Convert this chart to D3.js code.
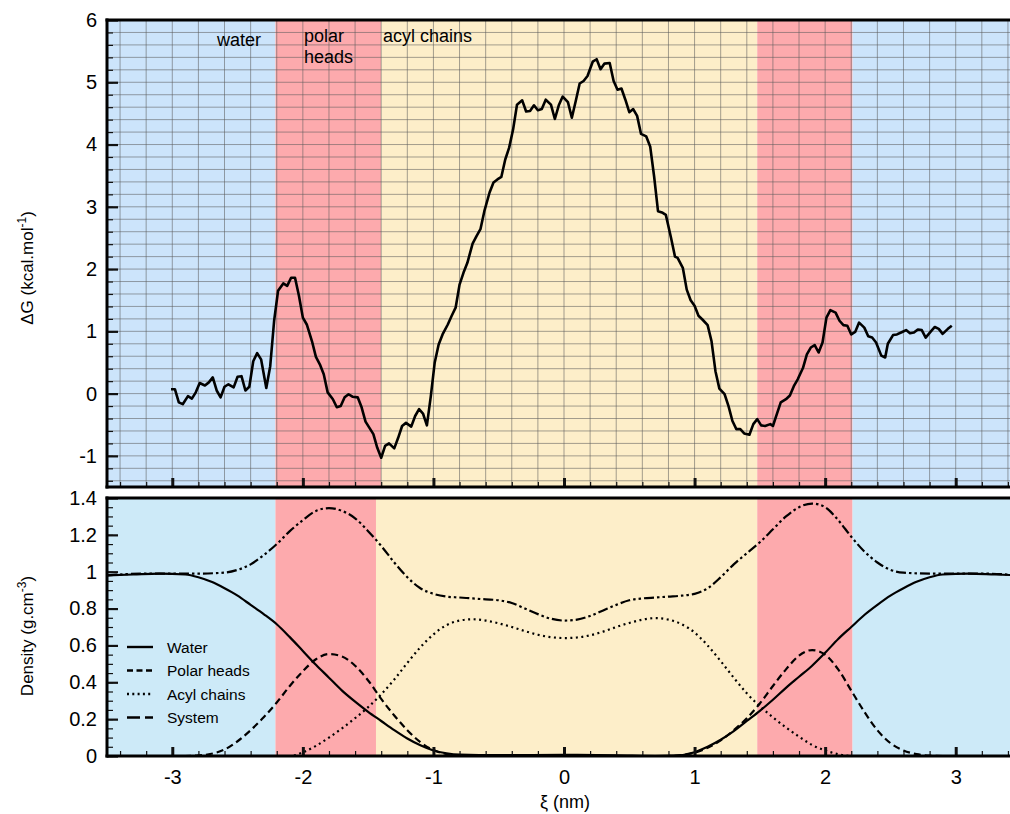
<!DOCTYPE html>
<html>
<head>
<meta charset="utf-8">
<script src="https://cdn.jsdelivr.net/npm/d3@7"></script>
<style>
body{margin:0;background:#fff}
text{font-family:"Liberation Sans",Arial,Helvetica,sans-serif}
</style>
</head>
<body>
<svg id="chart" width="1010" height="814"></svg>
<script>
// free energy profile, [xi (nm), dG (kcal/mol)]
var dgPoints = [[-3.01,0.07],[-2.98,0.07],[-2.95,-0.14],[-2.92,-0.17],[-2.88,-0.04],[-2.85,-0.08],[-2.82,0.02],[-2.79,0.17],[-2.75,0.13],[-2.72,0.18],[-2.69,0.26],[-2.66,0.05],[-2.63,-0.06],[-2.60,0.11],[-2.57,0.15],[-2.53,0.10],[-2.50,0.27],[-2.47,0.28],[-2.44,0.05],[-2.41,0.11],[-2.38,0.52],[-2.35,0.65],[-2.32,0.55],[-2.28,0.09],[-2.25,0.44],[-2.22,1.17],[-2.19,1.65],[-2.15,1.77],[-2.12,1.73],[-2.09,1.86],[-2.06,1.86],[-2.03,1.57],[-2.00,1.22],[-1.97,1.11],[-1.93,0.84],[-1.90,0.59],[-1.87,0.47],[-1.84,0.31],[-1.81,0.02],[-1.77,-0.09],[-1.74,-0.22],[-1.71,-0.20],[-1.68,-0.06],[-1.65,-0.01],[-1.62,-0.05],[-1.58,-0.06],[-1.55,-0.22],[-1.52,-0.45],[-1.49,-0.55],[-1.46,-0.65],[-1.43,-0.87],[-1.40,-1.03],[-1.37,-0.84],[-1.34,-0.80],[-1.30,-0.88],[-1.27,-0.71],[-1.24,-0.52],[-1.21,-0.47],[-1.17,-0.53],[-1.14,-0.36],[-1.11,-0.25],[-1.08,-0.32],[-1.05,-0.51],[-1.02,-0.04],[-0.99,0.50],[-0.96,0.79],[-0.93,0.95],[-0.89,1.11],[-0.86,1.25],[-0.83,1.38],[-0.80,1.75],[-0.77,1.94],[-0.74,2.10],[-0.70,2.41],[-0.67,2.53],[-0.64,2.64],[-0.61,2.93],[-0.57,3.23],[-0.54,3.39],[-0.51,3.44],[-0.48,3.48],[-0.45,3.76],[-0.42,3.95],[-0.39,4.24],[-0.36,4.64],[-0.32,4.71],[-0.29,4.53],[-0.26,4.54],[-0.23,4.63],[-0.20,4.55],[-0.17,4.57],[-0.14,4.72],[-0.10,4.64],[-0.07,4.41],[-0.04,4.63],[-0.01,4.77],[0.03,4.68],[0.06,4.43],[0.09,4.70],[0.12,4.98],[0.15,5.02],[0.18,5.10],[0.22,5.33],[0.25,5.37],[0.28,5.21],[0.31,5.30],[0.35,5.31],[0.38,5.02],[0.41,4.88],[0.44,4.90],[0.47,4.72],[0.50,4.52],[0.53,4.57],[0.56,4.46],[0.59,4.17],[0.63,4.13],[0.66,3.97],[0.69,3.49],[0.72,2.93],[0.75,2.91],[0.78,2.87],[0.82,2.50],[0.85,2.20],[0.87,2.18],[0.91,2.02],[0.94,1.67],[0.97,1.50],[1.00,1.41],[1.03,1.25],[1.06,1.19],[1.10,1.10],[1.13,0.84],[1.16,0.36],[1.19,0.08],[1.23,-0.01],[1.26,-0.20],[1.29,-0.44],[1.32,-0.57],[1.35,-0.57],[1.38,-0.64],[1.42,-0.66],[1.45,-0.49],[1.48,-0.41],[1.51,-0.51],[1.54,-0.52],[1.58,-0.49],[1.60,-0.52],[1.63,-0.33],[1.66,-0.14],[1.70,-0.09],[1.73,-0.03],[1.76,0.12],[1.79,0.23],[1.83,0.41],[1.86,0.63],[1.89,0.74],[1.92,0.78],[1.95,0.66],[1.98,0.82],[2.01,1.22],[2.04,1.34],[2.08,1.30],[2.11,1.17],[2.14,1.10],[2.17,1.09],[2.20,0.95],[2.23,0.99],[2.26,1.14],[2.30,1.06],[2.33,0.92],[2.36,0.90],[2.39,0.82],[2.43,0.61],[2.46,0.58],[2.48,0.80],[2.52,0.94],[2.55,0.95],[2.59,0.99],[2.62,1.02],[2.65,0.97],[2.68,0.98],[2.71,1.03],[2.74,1.02],[2.77,0.90],[2.81,1.00],[2.84,1.07],[2.87,1.04],[2.90,0.96],[2.94,1.04],[2.97,1.09]]

// density profiles, [xi (nm), density (g/cm3)]
var waterDens = [[-3.5,0.98],[-3.3,0.985],[-3.1,0.99],[-2.9,0.985],[-2.8,0.97],[-2.7,0.945],[-2.6,0.91],[-2.5,0.87],[-2.4,0.82],[-2.3,0.77],[-2.2,0.715],[-2.1,0.645],[-2.0,0.57],[-1.9,0.495],[-1.8,0.425],[-1.7,0.355],[-1.6,0.295],[-1.5,0.24],[-1.4,0.19],[-1.3,0.14],[-1.2,0.095],[-1.1,0.058],[-1.0,0.03],[-0.9,0.015],[-0.8,0.008],[-0.5,0.005],[0,0.006],[0.4,0.004],[0.7,0.0],[0.85,0.002],[1.0,0.02],[1.1,0.05],[1.2,0.088],[1.3,0.135],[1.4,0.19],[1.5,0.245],[1.6,0.305],[1.7,0.37],[1.8,0.43],[1.9,0.49],[2.0,0.56],[2.1,0.635],[2.2,0.70],[2.3,0.765],[2.4,0.82],[2.5,0.87],[2.6,0.91],[2.7,0.945],[2.8,0.97],[2.9,0.985],[3.1,0.99],[3.3,0.985],[3.5,0.98]]
var headsDens = [[-3.5,0],[-2.9,0],[-2.8,0.003],[-2.7,0.012],[-2.6,0.035],[-2.5,0.08],[-2.4,0.14],[-2.3,0.21],[-2.2,0.29],[-2.1,0.38],[-2.0,0.46],[-1.9,0.525],[-1.8,0.553],[-1.7,0.54],[-1.6,0.49],[-1.5,0.41],[-1.4,0.31],[-1.3,0.22],[-1.2,0.14],[-1.1,0.075],[-1.0,0.032],[-0.9,0.01],[-0.8,0.002],[-0.7,0],[0.8,0],[0.9,0.005],[1.0,0.018],[1.1,0.045],[1.2,0.085],[1.3,0.14],[1.4,0.205],[1.5,0.285],[1.6,0.38],[1.7,0.47],[1.8,0.545],[1.9,0.575],[2.0,0.55],[2.1,0.47],[2.2,0.355],[2.3,0.24],[2.4,0.14],[2.5,0.07],[2.6,0.03],[2.7,0.01],[2.8,0.002],[2.9,0],[3.5,0]]
var chainsDens = [[-3.5,0],[-2.1,0],[-2.0,0.02],[-1.9,0.055],[-1.8,0.1],[-1.7,0.15],[-1.6,0.205],[-1.5,0.265],[-1.4,0.335],[-1.3,0.415],[-1.2,0.505],[-1.1,0.59],[-1.0,0.66],[-0.9,0.71],[-0.8,0.735],[-0.7,0.742],[-0.6,0.735],[-0.5,0.72],[-0.4,0.70],[-0.3,0.678],[-0.2,0.658],[-0.1,0.645],[0,0.64],[0.1,0.643],[0.2,0.655],[0.3,0.675],[0.4,0.70],[0.5,0.722],[0.6,0.74],[0.7,0.748],[0.8,0.74],[0.9,0.715],[1.0,0.67],[1.1,0.60],[1.2,0.515],[1.3,0.425],[1.4,0.34],[1.5,0.27],[1.6,0.21],[1.7,0.155],[1.8,0.105],[1.9,0.06],[2.0,0.03],[2.1,0.01],[2.2,0],[3.5,0]]
var systemDens = [[-3.5,0.98],[-3.2,0.99],[-2.8,0.99],[-2.6,0.995],[-2.5,1.01],[-2.4,1.04],[-2.3,1.09],[-2.2,1.15],[-2.1,1.22],[-2.0,1.28],[-1.9,1.33],[-1.8,1.345],[-1.7,1.33],[-1.6,1.29],[-1.5,1.22],[-1.4,1.14],[-1.3,1.05],[-1.2,0.97],[-1.1,0.91],[-1.0,0.88],[-0.9,0.865],[-0.8,0.86],[-0.7,0.855],[-0.6,0.85],[-0.5,0.845],[-0.4,0.83],[-0.3,0.80],[-0.2,0.77],[-0.1,0.745],[0,0.735],[0.1,0.74],[0.2,0.76],[0.3,0.79],[0.4,0.82],[0.5,0.845],[0.6,0.855],[0.7,0.86],[0.8,0.865],[0.9,0.87],[1.0,0.88],[1.1,0.91],[1.2,0.97],[1.3,1.04],[1.4,1.10],[1.5,1.16],[1.6,1.23],[1.7,1.30],[1.8,1.35],[1.9,1.37],[2.0,1.35],[2.1,1.28],[2.2,1.19],[2.3,1.11],[2.4,1.05],[2.5,1.01],[2.6,0.995],[2.8,0.99],[3.2,0.99],[3.5,0.98]]

// membrane regions
var topBands = [[-3.5,-2.21,"water"],[-2.21,-1.40,"heads"],[-1.40,1.48,"chains"],[1.48,2.21,"heads"],[2.21,3.5,"water"]]
var botBands = [[-3.5,-2.21,"water"],[-2.21,-1.44,"heads"],[-1.44,1.48,"chains"],[1.48,2.21,"heads"],[2.21,3.5,"water"]]

var xMajor = [-3,-2,-1,0,1,2,3]
var dgMajor = [-1,0,1,2,3,4,5,6]
var densMajor = [0,0.2,0.4,0.6,0.8,1,1.2,1.4]

var series = [
  {name:"Water", data:waterDens, dash:null, legendDash:null},
  {name:"Polar heads", data:headsDens, dash:"7,4", legendDash:"6,3.5"},
  {name:"Acyl chains", data:chainsDens, dash:"2,3.5", legendDash:"2,3.3"},
  {name:"System", data:systemDens, dash:"10,3,2.5,3,2.5,3", legendDash:"13,5"}
]

var left = 107, right = 1021
var top1 = 20, bot1 = 487, top2 = 498, bot2 = 756

var x = d3.scaleLinear().domain([-3.5,3.5]).range([left,right])
var y1 = d3.scaleLinear().domain([-1.5,6]).range([bot1,top1])
var y2 = d3.scaleLinear().domain([0,1.4]).range([bot2,top2])

var svg = d3.select("#chart")

var topColor = {water:"#cce4fb", heads:"#fdaaad", chains:"#fdeec9"}
var botColor = {water:"#cdeaf8", heads:"#fdaaad", chains:"#fdeec9"}

// background regions
svg.append("g").selectAll("rect")
    .data(topBands)
  .enter().append("rect")
    .attr("x", function(d){ return x(d[0]) })
    .attr("width", function(d){ return x(d[1]) - x(d[0]) })
    .attr("y", top1)
    .attr("height", bot1 - top1)
    .attr("fill", function(d){ return topColor[d[2]] })

svg.append("g").selectAll("rect")
    .data(botBands)
  .enter().append("rect")
    .attr("x", function(d){ return x(d[0]) })
    .attr("width", function(d){ return x(d[1]) - x(d[0]) })
    .attr("y", top2)
    .attr("height", bot2 - top2)
    .attr("fill", function(d){ return botColor[d[2]] })

// grid in top panel, every 0.2
var gridX = d3.range(-17, 18).map(function(i){ return i/5 })
var gridY = d3.range(-7, 30).map(function(i){ return i/5 })
var grid = svg.append("g").attr("stroke", "#5a5a5a").attr("stroke-opacity", 0.55).attr("stroke-width", 1)
grid.selectAll(".gx").data(gridX).enter().append("line")
    .attr("x1", function(d){ return x(d) }).attr("x2", function(d){ return x(d) })
    .attr("y1", top1).attr("y2", bot1)
grid.selectAll(".gy").data(gridY).enter().append("line")
    .attr("y1", function(d){ return y1(d) }).attr("y2", function(d){ return y1(d) })
    .attr("x1", left).attr("x2", 1010)

// dG curve
var dgLine = d3.line()
    .x(function(d){ return x(d[0]) })
    .y(function(d){ return y1(d[1]) })
svg.append("path")
    .datum(dgPoints)
    .attr("d", dgLine)
    .attr("fill", "none")
    .attr("stroke", "#000")
    .attr("stroke-width", 2.6)
    .attr("stroke-linejoin", "round")

// density curves
svg.append("clipPath").attr("id", "clip2").append("rect")
    .attr("x", left).attr("y", top2).attr("width", 1010 - left).attr("height", bot2 - top2)
var densLine = d3.line()
    .curve(d3.curveMonotoneX)
    .x(function(d){ return x(d[0]) })
    .y(function(d){ return y2(d[1]) })
svg.append("g").attr("clip-path", "url(#clip2)").selectAll("path")
    .data(series)
  .enter().append("path")
    .attr("d", function(d){ return densLine(d.data) })
    .attr("fill", "none")
    .attr("stroke", "#000")
    .attr("stroke-width", 2.2)
    .attr("stroke-dasharray", function(d){ return d.dash })

// axes helpers
var axisFont = '"Liberation Sans",Arial,Helvetica,sans-serif'
var styleAxis = function(g, w){
  g.select(".domain").remove()
  g.selectAll(".tick line").attr("stroke", "#111").attr("stroke-width", w)
  g.attr("font-size", 20).attr("font-family", axisFont)
  g.selectAll(".tick text").attr("fill", "#000")
}
var addAxis = function(axis, tx, ty, w){
  var g = svg.append("g").attr("transform", "translate(" + tx + "," + ty + ")")
  g.call(axis)
  styleAxis(g, w)
  return g
}
var fmt = function(d){ return String(+d.toFixed(1)) }

// top panel axes
addAxis(d3.axisBottom(x).tickValues(gridX).tickSize(-5).tickFormat(""), 0, bot1, 1.2)
addAxis(d3.axisBottom(x).tickValues(xMajor).tickSize(-9).tickFormat(""), 0, bot1, 3)
addAxis(d3.axisLeft(y1).tickValues(gridY).tickSize(-6).tickFormat(""), left, 0, 1.2)
addAxis(d3.axisLeft(y1).tickValues(dgMajor).tickSize(-11).tickPadding(10).tickFormat(fmt), left, 0, 2.2)

// bottom panel axes
addAxis(d3.axisBottom(x).tickValues(gridX).tickSize(-5).tickFormat(""), 0, bot2, 1.2)
addAxis(d3.axisBottom(x).tickValues(xMajor).tickSize(-9).tickPadding(14).tickFormat(fmt), 0, bot2, 3)
addAxis(d3.axisLeft(y2).tickValues(d3.range(0, 29).map(function(i){ return i/20 })).tickSize(-6).tickFormat(""), left, 0, 1.2)
addAxis(d3.axisLeft(y2).tickValues(densMajor).tickSize(-11).tickPadding(10).tickFormat(fmt), left, 0, 2.2)

// frames
var frame = svg.append("g").attr("stroke", "#000").attr("stroke-width", 3).attr("stroke-linecap", "square")
frame.append("line").attr("x1", left).attr("x2", 1012).attr("y1", top1).attr("y2", top1)
frame.append("line").attr("x1", left).attr("x2", left).attr("y1", top1).attr("y2", bot1)
frame.append("line").attr("x1", left).attr("x2", 1012).attr("y1", bot1).attr("y2", bot1)
frame.append("line").attr("x1", left).attr("x2", 1012).attr("y1", top2).attr("y2", top2)
frame.append("line").attr("x1", left).attr("x2", left).attr("y1", top2).attr("y2", bot2)
frame.append("line").attr("x1", left).attr("x2", 1012).attr("y1", bot2).attr("y2", bot2)

// region labels
var labels = svg.append("g").attr("font-size", 18).attr("fill", "#000")
labels.append("text").attr("x", 217).attr("y", 46).text("water")
labels.append("text").attr("x", 304).attr("y", 42).text("polar")
labels.append("text").attr("x", 304).attr("y", 63).text("heads")
labels.append("text").attr("x", 383).attr("y", 42).text("acyl chains")

// legend
var legend = svg.append("g").selectAll("g")
    .data(series)
  .enter().append("g")
    .attr("transform", function(d, i){ return "translate(127," + (647 + i*23.5) + ")" })
legend.append("line")
    .attr("x1", 0).attr("x2", 26)
    .attr("stroke", "#000").attr("stroke-width", 2.4)
    .attr("stroke-dasharray", function(d){ return d.legendDash })
legend.append("text")
    .attr("x", 40).attr("dy", "0.36em")
    .attr("font-size", 15.5)
    .text(function(d){ return d.name })

// axis titles
var t1 = svg.append("text")
    .attr("transform", "translate(33,268) rotate(-90)")
    .attr("text-anchor", "middle").attr("font-size", 17)
t1.append("tspan").text("\u0394G (kcal.mol")
t1.append("tspan").attr("font-size", 12).attr("dy", -7).text("-1")
t1.append("tspan").attr("dy", 7).text(")")

var t2 = svg.append("text")
    .attr("transform", "translate(33,636) rotate(-90)")
    .attr("text-anchor", "middle").attr("font-size", 17)
t2.append("tspan").text("Density (g.cm")
t2.append("tspan").attr("font-size", 12).attr("dy", -7).text("-3")
t2.append("tspan").attr("dy", 7).text(")")

svg.append("text")
    .attr("x", 565).attr("y", 808)
    .attr("text-anchor", "middle").attr("font-size", 18)
    .text("\u03be (nm)")
</script>
</body>
</html>
